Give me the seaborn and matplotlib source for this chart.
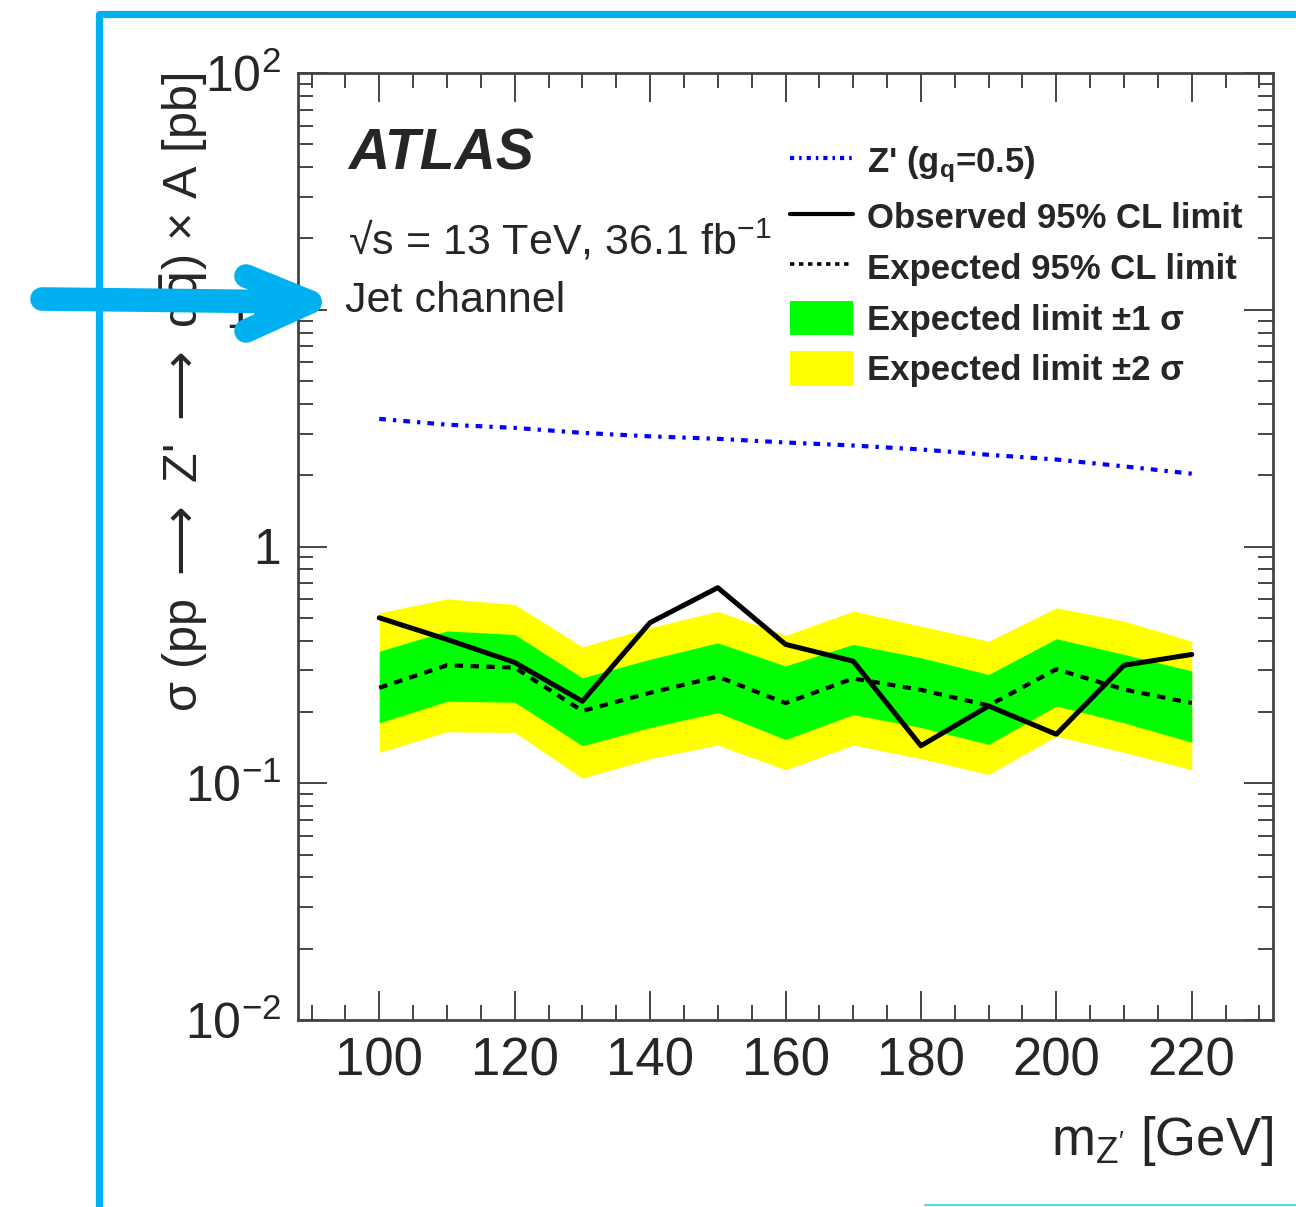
import numpy as np
import pandas as pd
import matplotlib
matplotlib.use("Agg")
import matplotlib.pyplot as plt
import seaborn as sns
from matplotlib.lines import Line2D
from matplotlib.patches import Patch
from matplotlib.ticker import FixedLocator, FixedFormatter, LogLocator, NullFormatter, MultipleLocator

# ---- data ----
mass = [100, 110, 120, 130, 140, 150, 160, 170, 180, 190, 200, 210, 220]
observed = [0.50, 0.405, 0.324, 0.222, 0.477, 0.67, 0.386, 0.328, 0.144, 0.212, 0.161, 0.315, 0.35]
expected = [0.253, 0.315, 0.308, 0.202, 0.241, 0.282, 0.218, 0.277, 0.248, 0.213, 0.303, 0.249, 0.218]
sigma1_low = [0.18, 0.222, 0.220, 0.144, 0.172, 0.199, 0.153, 0.195, 0.172, 0.146, 0.212, 0.18, 0.149]
sigma1_high = [0.361, 0.44, 0.425, 0.279, 0.334, 0.392, 0.313, 0.386, 0.339, 0.288, 0.408, 0.35, 0.298]
sigma2_low = [0.135, 0.165, 0.164, 0.105, 0.127, 0.145, 0.114, 0.145, 0.127, 0.109, 0.158, 0.135, 0.114]
sigma2_high = [0.525, 0.601, 0.569, 0.377, 0.454, 0.533, 0.421, 0.533, 0.461, 0.398, 0.551, 0.484, 0.398]
zprime = [3.46, 3.27, 3.17, 3.02, 2.92, 2.85, 2.75, 2.67, 2.57, 2.44, 2.33, 2.18, 2.03]

x_ticks = [100, 120, 140, 160, 180, 200, 220]
y_ticks = [0.01, 0.1, 1, 10, 100]
y_tick_labels = [r"$10^{-2}$", r"$10^{-1}$", "1", "10", r"$10^{2}$"]
legend_labels = [r"Z' (g$_{\mathbf{q}}$=0.5)", "Observed 95% CL limit", "Expected 95% CL limit",
                 "Expected limit ±1 σ", "Expected limit ±2 σ"]

df = pd.DataFrame({"mass": mass, "observed": observed, "expected": expected, "zprime": zprime})

# ---- style ----
sns.set_theme(style="ticks")
plt.rcParams["font.family"] = ["Liberation Sans", "DejaVu Sans"]
plt.rcParams["mathtext.fontset"] = "custom"
plt.rcParams["mathtext.rm"] = "Liberation Sans"
plt.rcParams["mathtext.it"] = "Liberation Sans:italic"
plt.rcParams["mathtext.bf"] = "Liberation Sans:bold"
plt.rcParams["mathtext.sf"] = "Liberation Sans"

W, H = 1296, 1207
fig = plt.figure(figsize=(W / 100, H / 100), dpi=100)
fig.patch.set_facecolor("white")
ax = fig.add_axes([298 / W, 1 - 1020 / H, (1273 - 298) / W, (1020 - 73) / H])
ax.set_facecolor("white")

GREEN = "#00FF00"
YELLOW = "#FFFF00"
ZBLUE = "#0000FF"

ax.fill_between(mass, sigma2_low, sigma2_high, color=YELLOW, lw=0, zorder=1)
ax.fill_between(mass, sigma1_low, sigma1_high, color=GREEN, lw=0, zorder=2)

zdash = (0, (1.6, 1.7, 0.8, 1.7))
edash = (0, (2.0, 1.8))
sns.lineplot(data=df, x="mass", y="zprime", ax=ax, color=ZBLUE, lw=3.0, linestyle=zdash, zorder=3)
sns.lineplot(data=df, x="mass", y="expected", ax=ax, color="black", lw=3.0, linestyle=edash, zorder=4)
sns.lineplot(data=df, x="mass", y="observed", ax=ax, color="black", lw=3.6, zorder=5)

ax.set_yscale("log")
ax.set_ylim(0.01, 100)
ax.set_xlim(88, 232)

ax.xaxis.set_major_locator(FixedLocator(x_ticks))
ax.xaxis.set_minor_locator(MultipleLocator(5))
ax.yaxis.set_major_locator(FixedLocator(y_ticks))
ax.yaxis.set_major_formatter(FixedFormatter(y_tick_labels))
ax.yaxis.set_minor_locator(LogLocator(base=10, subs=np.arange(2, 10)))
ax.yaxis.set_minor_formatter(NullFormatter())

ax.tick_params(which="both", direction="in", top=True, right=True, color="#444444", width=1.4)
ax.tick_params(which="major", length=21)
ax.tick_params(which="minor", length=11)
ax.tick_params(axis="x", which="major", labelsize=38, pad=12)
ax.tick_params(axis="y", which="major", labelsize=36, pad=12)
for s in ax.spines.values():
    s.set_color("#444444")
    s.set_linewidth(2.0)
    s.set_visible(True)

ax.set_xlabel(r"m$_{\mathrm{Z'}}$ [GeV]", fontsize=38, loc="right", labelpad=20)
ax.set_ylabel(r"σ (pp $\longrightarrow$ Z' $\longrightarrow$ q$\bar{\mathrm{q}}$) × A [pb]",
              fontsize=35, loc="top", labelpad=-18, math_fontfamily="dejavusans")

# ---- texts ----
ax.text(0.051, 0.8976, "ATLAS", transform=ax.transAxes, fontsize=41, fontweight="bold",
        fontstyle="italic", va="baseline", ha="left")
ax.text(0.051, 0.808, "√s = 13 TeV, 36.1 fb$^{-1}$", transform=ax.transAxes, fontsize=31,
        va="baseline", ha="left")
ax.text(0.048, 0.7476, "Jet channel", transform=ax.transAxes, fontsize=31,
        va="baseline", ha="left")

# ---- legend ----
handles = [
    Line2D([0], [0], color=ZBLUE, lw=3.0, linestyle=(0, (1.0, 1.2, 0.6, 1.2))),
    Line2D([0], [0], color="black", lw=3.0),
    Line2D([0], [0], color="black", lw=2.6, linestyle=(0, (1.2, 1.3))),
    Patch(facecolor=GREEN, edgecolor="none"),
    Patch(facecolor=YELLOW, edgecolor="none"),
]
leg = ax.legend(handles, legend_labels, loc="upper left", bbox_to_anchor=(0.5046, 0.926),
                frameon=False, prop={"weight": "bold", "size": 25}, handlelength=1.82,
                handleheight=1.15, handletextpad=0.4, labelspacing=0.42, borderaxespad=0,
                borderpad=0)

# ---- annotation: blue frame and arrow ----
FRAME = "#00B0F0"
def px(x, y):
    return x / W, 1 - y / H

fx, fy = zip(*[px(99.5, H + 5), px(99.5, 13.5), px(W + 5, 13.5)])
fig.add_artist(Line2D(fx, fy, color=FRAME, lw=5.2, solid_joinstyle="round", solid_capstyle="butt"))
bx, by = zip(*[px(925, 1205), px(W + 5, 1205)])
fig.add_artist(Line2D(bx, by, color="#63D2F6", lw=1.6))

for (x1, y1), (x2, y2) in [((42, 299), (308, 302)), ((246, 276), (310, 302)), ((246, 331), (310, 302))]:
    lx, ly = zip(px(x1, y1), px(x2, y2))
    fig.add_artist(Line2D(lx, ly, color=FRAME, lw=17, solid_capstyle="round"))

fig.savefig("out.png", dpi=100, facecolor="white")
